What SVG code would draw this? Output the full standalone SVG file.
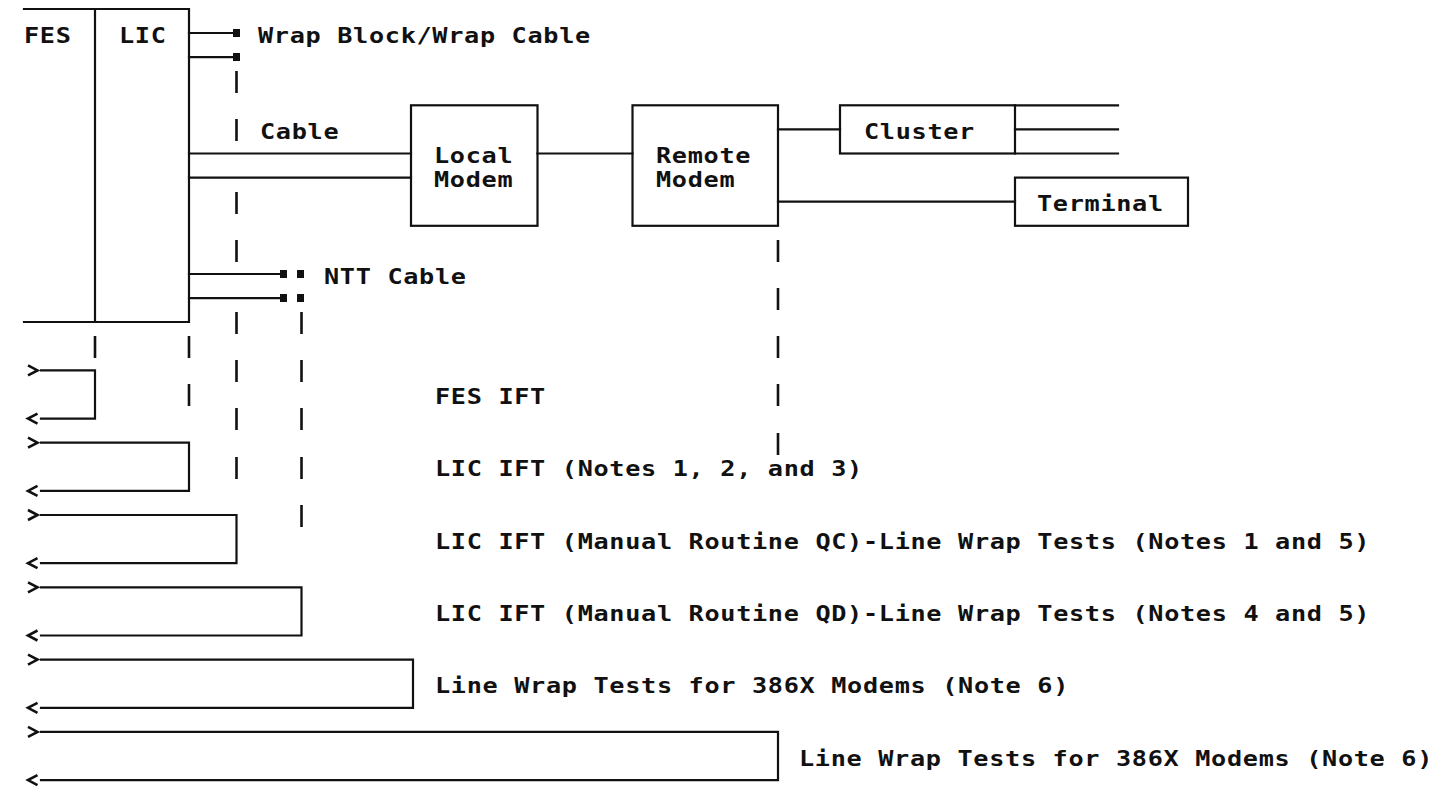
<svg xmlns="http://www.w3.org/2000/svg" width="1440" height="786" viewBox="0 0 1440 786">
  <style>
    .t { font-family: "DejaVu Sans Mono", "Liberation Mono", monospace; font-size: 21px; font-weight: bold; letter-spacing: 0.57px; fill: #111; }
    .ln { fill: none; stroke: #111; stroke-width: 2.2; stroke-linecap: square; }
    .dash { fill: none; stroke: #111; stroke-width: 2.6; stroke-linecap: butt; }
    .box { fill: none; stroke: #111; stroke-width: 2.2; }
    .sq { fill: #111; }
  </style>
  <defs>
    <marker id="chev-start" markerUnits="userSpaceOnUse" orient="auto" markerWidth="30" markerHeight="20" refX="0" refY="0" viewBox="-15 -10 30 20" overflow="visible">
      <path d="M-13,-5 L-3.5,0 L-13,5" fill="none" stroke="#111" stroke-width="2.6" stroke-linejoin="miter"/>
    </marker>
    <marker id="chev-end" markerUnits="userSpaceOnUse" orient="auto" markerWidth="30" markerHeight="20" refX="0" refY="0" viewBox="-15 -10 30 20" overflow="visible">
      <path d="M3.5,-5 L13,0 L3.5,5" fill="none" stroke="#111" stroke-width="2.6" stroke-linejoin="miter"/>
    </marker>
  </defs>
  <rect width="1440" height="786" fill="#fff"/>

  <g id="fes">
    <path class="ln" d="M24,9 H95 M24,322 H95 M95,9 V322"/>
    <text class="t" transform="translate(24,42.5) scale(1.2,1)">FES</text>
  </g>
  <g id="lic">
    <path class="ln" d="M95,9 H189 V322 H95"/>
    <text class="t" transform="translate(119,42.5) scale(1.2,1)">LIC</text>
  </g>
  <g id="wrap-block">
    <rect class="sq" x="233" y="29" width="7" height="8"/>
    <rect class="sq" x="233" y="53" width="7" height="8"/>
    <text class="t" transform="translate(258,42.5) scale(1.2,1)">Wrap Block/Wrap Cable</text>
  </g>
  <g id="cable">
    <text class="t" transform="translate(260,138.9) scale(1.2,1)">Cable</text>
  </g>
  <g id="local-modem">
    <rect class="box" x="411" y="105.3" width="126.5" height="120.5"/>
    <text class="t" transform="translate(434,163) scale(1.2,1)">Local</text>
    <text class="t" transform="translate(434,187.1) scale(1.2,1)">Modem</text>
  </g>
  <g id="remote-modem">
    <rect class="box" x="632.5" y="105.3" width="145.5" height="120.5"/>
    <text class="t" transform="translate(656,163) scale(1.2,1)">Remote</text>
    <text class="t" transform="translate(656,187.1) scale(1.2,1)">Modem</text>
  </g>
  <g id="cluster">
    <rect class="box" x="840" y="105.3" width="175" height="48.2"/>
    <text class="t" transform="translate(864,138.9) scale(1.2,1)">Cluster</text>
  </g>
  <g id="terminal">
    <rect class="box" x="1015" y="177.6" width="173" height="48.2"/>
    <text class="t" transform="translate(1037,211.2) scale(1.2,1)">Terminal</text>
  </g>
  <g id="ntt-cable">
    <rect class="sq" x="280" y="270" width="7" height="8"/>
    <rect class="sq" x="297" y="270" width="7" height="8"/>
    <rect class="sq" x="280" y="294" width="7" height="8"/>
    <rect class="sq" x="297" y="294" width="7" height="8"/>
    <text class="t" transform="translate(324,283.5) scale(1.2,1)">NTT Cable</text>
  </g>

  <g id="test-labels">
    <text class="t" transform="translate(435,404) scale(1.2,1)">FES IFT</text>
    <text class="t" transform="translate(435,476.3) scale(1.2,1)">LIC IFT (Notes 1, 2, and 3)</text>
    <text class="t" transform="translate(435,548.6) scale(1.2,1)">LIC IFT (Manual Routine QC)-Line Wrap Tests (Notes 1 and 5)</text>
    <text class="t" transform="translate(435,620.9) scale(1.2,1)">LIC IFT (Manual Routine QD)-Line Wrap Tests (Notes 4 and 5)</text>
    <text class="t" transform="translate(435,693.2) scale(1.2,1)">Line Wrap Tests for 386X Modems (Note 6)</text>
    <text class="t" transform="translate(799,765.5) scale(1.2,1)">Line Wrap Tests for 386X Modems (Note 6)</text>
  </g>

  <g id="connectors">
    <path class="ln" d="M189,33 H232 M189,57.1 H232"/>
    <path class="ln" d="M189,153.5 H411 M189,177.6 H411"/>
    <path class="ln" d="M537.5,153.5 H632.5"/>
    <path class="ln" d="M778,129.4 H840"/>
    <path class="ln" d="M1015,105.3 H1118 M1015,129.4 H1118 M1015,153.5 H1118"/>
    <path class="ln" d="M778,201.7 H1015"/>
    <path class="ln" d="M189,274 H279 M189,298.1 H279"/>

    <path class="dash" d="M95,336 V358"/>
    <path class="dash" d="M189,336 V358 M189,384 V406"/>
    <path class="dash" d="M236.5,71 V93 M236.5,119 V141 M236.5,192 V214 M236.5,240 V262 M236.5,312 V334 M236.5,360 V382 M236.5,408 V430 M236.5,457 V479"/>
    <path class="dash" d="M301.5,312 V334 M301.5,360 V382 M301.5,408 V430 M301.5,457 V479 M301.5,505 V527"/>
    <path class="dash" d="M778,240 V262 M778,288 V310 M778,336 V358 M778,384 V406 M778,433 V455"/>

    <path class="ln" marker-start="url(#chev-start)" marker-end="url(#chev-end)" d="M41,370.4 H95 V418.6 H41"/>
    <path class="ln" marker-start="url(#chev-start)" marker-end="url(#chev-end)" d="M41,442.7 H189 V490.9 H41"/>
    <path class="ln" marker-start="url(#chev-start)" marker-end="url(#chev-end)" d="M41,515 H236.5 V563.2 H41"/>
    <path class="ln" marker-start="url(#chev-start)" marker-end="url(#chev-end)" d="M41,587.3 H301.5 V635.5 H41"/>
    <path class="ln" marker-start="url(#chev-start)" marker-end="url(#chev-end)" d="M41,659.6 H413 V707.8 H41"/>
    <path class="ln" marker-start="url(#chev-start)" marker-end="url(#chev-end)" d="M41,731.9 H778 V780.1 H41"/>
  </g>
</svg>
